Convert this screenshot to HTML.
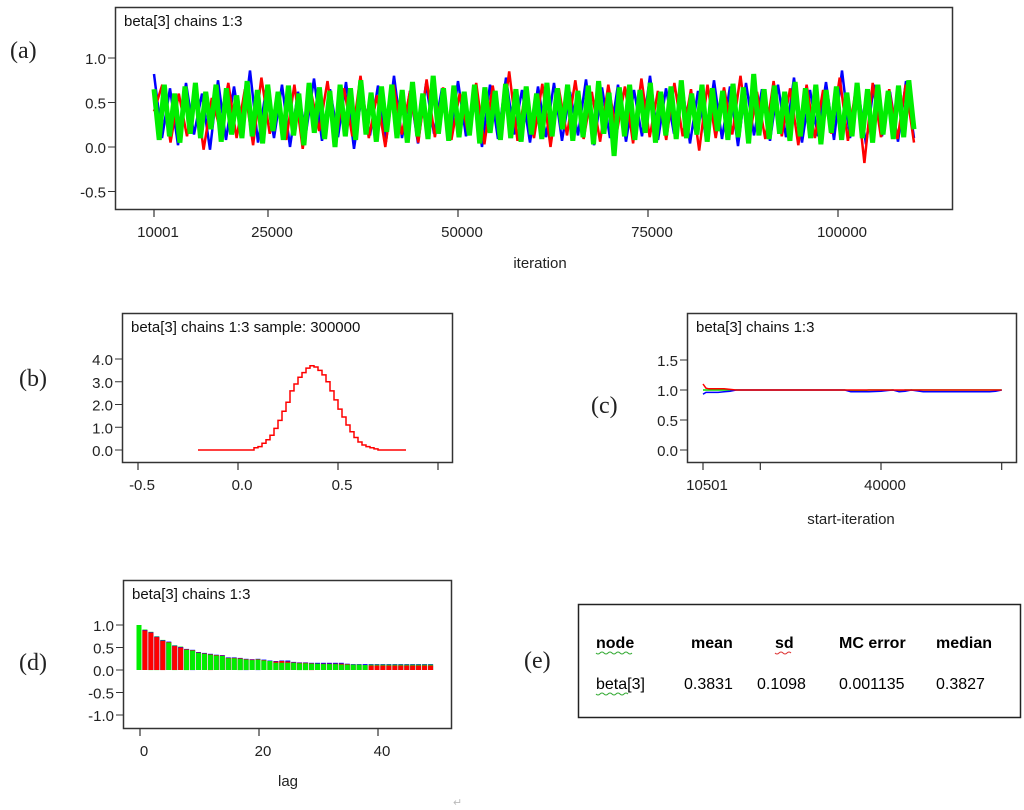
<!DOCTYPE html>
<html><head><meta charset="utf-8"><style>
body{margin:0;background:#fff;}
svg{display:block;font-family:"Liberation Sans",sans-serif;}
.t{font-size:15px;fill:#111;}
.tk{font-size:15px;fill:#222;}
.lab{font-family:"Liberation Serif",serif;font-size:24px;fill:#222;}
.ret{font-size:11px;fill:#bbb;}
</style></head><body>
<svg id="s" width="1024" height="810" viewBox="0 0 1024 810">
<g id="pa"></g>
<g id="pb"></g>
<g id="pc"></g>
<g id="pd"></g>
<g id="pe">
<rect x="578.5" y="604.5" width="442" height="113" fill="none" stroke="#222" stroke-width="1.5"/>
<text x="596" y="648" font-weight="bold" font-size="16">node</text>
<text x="691" y="648" font-weight="bold" font-size="16">mean</text>
<text x="775" y="648" font-weight="bold" font-size="16">sd</text>
<text x="839" y="648" font-weight="bold" font-size="16">MC error</text>
<text x="936" y="648" font-weight="bold" font-size="16">median</text>
<text x="596" y="689" font-size="16">beta[3]</text>
<text x="684" y="689" font-size="16">0.3831</text>
<text x="757" y="689" font-size="16">0.1098</text>
<text x="839" y="689" font-size="16">0.001135</text>
<text x="936" y="689" font-size="16">0.3827</text>
<path d="M596 653 q2 2 4 0 t4 0 t4 0 t4 0 t4 0 t4 0 t4 0 t4 0 t4 0" stroke="#3a3" fill="none" stroke-width="1"/>
<path d="M775 653 q2 2 4 0 t4 0 t4 0 t4 0" stroke="#d33" fill="none" stroke-width="1"/>
<path d="M596 694 q2 2 4 0 t4 0 t4 0 t4 0 t4 0 t4 0 t4 0 t4 0" stroke="#3a3" fill="none" stroke-width="1"/>
</g>
<text class="lab" x="10" y="58">(a)</text>
<text class="lab" x="19" y="386">(b)</text>
<text class="lab" x="591" y="413">(c)</text>
<text class="lab" x="19" y="670">(d)</text>
<text class="lab" x="524" y="668">(e)</text>
<text class="ret" x="453" y="806">↵</text>
</svg>
<script>
// ---- data ----
const traceGreen=[0.65,0.08,0.7,0.12,0.6,0.05,0.68,0.15,0.72,0.1,0.62,0.2,0.7,0.06,0.66,0.14,0.58,0.1,0.74,0.12,0.64,0.04,0.7,0.18,0.62,0.08,0.69,0.13,0.6,0.02,0.72,0.16,0.67,0.09,0.63,0.0,0.7,0.12,0.66,0.08,0.75,0.14,0.61,0.06,0.68,0.17,0.7,0.1,0.64,0.05,0.73,0.12,0.6,0.09,0.8,0.15,0.66,0.07,0.69,0.11,0.62,0.13,0.7,0.04,0.67,0.16,0.63,0.08,0.71,0.1,0.65,0.06,0.68,0.14,0.6,0.09,0.72,0.12,0.66,0.2,0.7,0.07,0.63,0.11,0.69,0.03,0.74,0.15,0.61,-0.1,0.67,0.12,0.7,0.08,0.64,0.16,0.72,0.05,0.62,0.13,0.68,0.09,0.75,0.1,0.6,0.14,0.7,0.06,0.66,0.18,0.63,0.08,0.71,0.11,0.67,0.04,0.82,0.13,0.65,0.09,0.69,0.15,0.62,0.07,0.73,0.12,0.66,0.1,0.7,0.03,0.64,0.16,0.68,0.08,0.61,0.12,0.72,0.1,0.65,0.05,0.7,0.14,0.63,0.09,0.69,0.11,0.75,0.2];
const traceRed=[0.4,0.7,0.05,0.6,0.12,0.68,-0.03,0.55,0.2,0.72,0.1,0.65,0.02,0.78,0.15,0.6,0.08,0.7,-0.02,0.62,0.18,0.74,0.06,0.66,0.12,0.8,0.1,0.58,0.0,0.7,0.14,0.63,0.05,0.76,0.11,0.67,0.08,0.6,0.16,0.72,0.03,0.69,0.12,0.85,0.07,0.64,0.1,0.71,0.0,0.66,0.13,0.75,0.09,0.62,0.06,0.7,0.15,0.68,0.04,0.77,0.11,0.63,0.08,0.72,0.12,0.65,-0.04,0.7,0.1,0.67,0.14,0.8,0.06,0.62,0.09,0.74,0.12,0.66,0.02,0.7,0.1,0.64,0.15,0.78,0.07,0.68,-0.18,0.72,0.11,0.65,0.09,0.7,0.05];
const traceBlue=[0.82,0.1,0.66,0.02,0.72,0.14,0.6,-0.03,0.75,0.08,0.68,0.12,0.86,0.05,0.64,0.1,0.7,0.0,0.62,0.16,0.77,0.07,0.65,0.11,0.73,-0.02,0.6,0.13,0.69,0.06,0.8,0.1,0.63,0.04,0.71,0.15,0.66,0.08,0.74,0.12,0.6,0.0,0.7,0.09,0.78,0.14,0.64,0.05,0.68,0.11,0.72,0.07,0.62,0.13,0.76,0.02,0.67,0.1,0.7,0.06,0.64,0.12,0.8,0.08,0.66,0.15,0.71,0.04,0.63,0.1,0.75,0.09,0.68,0.01,0.72,0.13,0.65,0.07,0.7,0.11,0.78,0.05,0.64,0.12,0.73,0.08,0.86,0.1,0.66,0.03,0.7,0.12,0.62,0.06,0.74,0.1];
const traceYTicks=[1.0,0.5,0.0,-0.5];
const traceYTickLabels=["1.0","0.5","0.0","-0.5"];
const traceXTicks=[10001,25000,50000,75000,100000];
const traceXTickLabels=["10001","25000","50000","75000","100000"];

const densX=[-0.20,-0.18,-0.16,-0.14,-0.12,-0.10,-0.08,-0.06,-0.04,-0.02,0.00,0.02,0.04,0.06,0.08,0.10,0.12,0.14,0.16,0.18,0.20,0.22,0.24,0.26,0.28,0.30,0.32,0.34,0.36,0.38,0.40,0.42,0.44,0.46,0.48,0.50,0.52,0.54,0.56,0.58,0.60,0.62,0.64,0.66,0.68,0.70,0.72,0.74,0.76,0.78,0.80,0.82,0.84];
const densY=[0,0,0,0,0,0,0,0,0,0,0,0,0,0,0.1,0.15,0.3,0.45,0.65,0.95,1.3,1.7,2.1,2.6,2.9,3.2,3.4,3.6,3.7,3.65,3.5,3.3,3.0,2.6,2.2,1.8,1.45,1.1,0.8,0.55,0.35,0.22,0.15,0.1,0.05,0,0,0,0,0,0,0,0];
const densYTicks=[4,3,2,1,0];
const densYTickLabels=["4.0","3.0","2.0","1.0","0.0"];
const densXTicks=[-0.5,0,0.5,1.0];
const densXTickLabels=["-0.5","0.0","0.5",""];

const bgrStart=[10501,11000,11500,12000,13000,14000,15000,16000,17000,18000,20000,25000,30000,34000,35000,36000,37000,38000,40000,42000,43000,44000,45000,47000,50000,53000,56000,58000,59000,60000];
const bgrRed=[1.1,1.03,1.02,1.02,1.02,1.02,1.01,1.0,1.0,1.0,1.0,1.0,1.0,1.0,1.0,1.0,1.0,1.0,1.0,1.0,1.0,1.0,1.0,1.0,1.0,1.0,1.0,1.0,1.0,1.0];
const bgrBlue=[0.93,0.96,0.96,0.96,0.96,0.97,0.98,1.0,1.0,1.0,1.0,1.0,1.0,1.0,0.97,0.97,0.97,0.97,0.98,1.0,0.97,0.98,1.0,0.97,0.97,0.97,0.97,0.97,0.98,1.0];
const bgrGreen=[1.0,1.0,1.0,1.0,1.0,1.0,1.0,1.0,1.0,1.0,1.0,1.0,1.0,1.0,0.99,0.98,0.99,1.0,1.0,1.0,0.98,1.0,1.0,1.0,1.0,1.0,1.0,1.0,1.0,1.0];
const bgrYTicks=[1.5,1.0,0.5,0.0];
const bgrYTickLabels=["1.5","1.0","0.5","0.0"];
const bgrXTicks=[10501,20000,40000,60000];
const bgrXTickLabels=["10501","","40000",""];

const acfRed=[1.0,0.88,0.83,0.73,0.65,0.62,0.53,0.5,0.46,0.44,0.39,0.37,0.35,0.33,0.32,0.27,0.27,0.26,0.24,0.23,0.24,0.22,0.2,0.19,0.2,0.19,0.17,0.16,0.16,0.15,0.14,0.14,0.14,0.14,0.14,0.13,0.12,0.12,0.11,0.1,0.1,0.1,0.1,0.1,0.1,0.1,0.1,0.1,0.1,0.1];
const acfBlue=[1.0,0.89,0.84,0.74,0.66,0.63,0.54,0.51,0.47,0.45,0.4,0.38,0.36,0.34,0.33,0.28,0.28,0.27,0.25,0.24,0.25,0.23,0.21,0.2,0.21,0.21,0.18,0.17,0.17,0.16,0.16,0.16,0.16,0.16,0.16,0.14,0.13,0.13,0.13,0.13,0.13,0.13,0.13,0.13,0.13,0.13,0.13,0.13,0.13,0.13];
const acfGreen=[1.0,0.9,0.85,0.75,0.67,0.61,0.55,0.52,0.45,0.43,0.38,0.36,0.34,0.32,0.31,0.26,0.26,0.25,0.23,0.22,0.23,0.21,0.2,0.16,0.16,0.16,0.16,0.15,0.15,0.14,0.14,0.13,0.13,0.13,0.12,0.12,0.12,0.12,0.11,0.12,0.12,0.12,0.12,0.12,0.12,0.12,0.12,0.12,0.12,0.12];
const acfYTicks=[1.0,0.5,0.0,-0.5,-1.0];
const acfYTickLabels=["1.0","0.5","0.0","-0.5","-1.0"];
const acfXTicks=[0,20,40];
const acfXTickLabels=["0","20","40"];

// ---- helpers ----
const NS="http://www.w3.org/2000/svg";
function mk(parent,tag,attrs){const e=document.createElementNS(NS,tag);for(const k in attrs)e.setAttribute(k,attrs[k]);parent.appendChild(e);return e;}
function lin(d0,d1,r0,r1){return v=>r0+(v-d0)*(r1-r0)/(d1-d0);}
function frame(g,x0,y0,x1,y1,title){
  const r=mk(g,'rect',{x:x0+0.5,y:y0+0.5,width:x1-x0,height:y1-y0,fill:'none',stroke:'#333','stroke-width':1.5});
  
  
  const t=mk(g,'text',{x:x0+9,y:y0+19,class:'t'});t.textContent=title;
  
  
}
function yAxis(g,x0,ticks,labels,sy){
  ticks.forEach((v,i)=>{
    const y=sy(v);
    const l=mk(g,'line',{x1:x0-7,x2:x0,y1:y,y2:y,stroke:'#333','stroke-width':1});
    
    
    const t=mk(g,'text',{x:x0-9,y:y+6,class:'tk','text-anchor':'end'});t.textContent=labels[i];
    
    
  });
}
function xAxis(g,y1,ticks,labels,sx){
  ticks.forEach((v,i)=>{
    const x=sx(v);
    const l=mk(g,'line',{x1:x,x2:x,y1:y1,y2:y1+8,stroke:'#333','stroke-width':1.2});
    
    
    const t=mk(g,'text',{x:x+4,y:y1+28,class:'tk','text-anchor':'middle'});t.textContent=labels[i];
    
    
  });
}
function xTitle(g,x,y,s){const t=mk(g,'text',{x:x,y:y,class:'tk','text-anchor':'middle'});t.textContent=s;
  
  }

// ---- (a) trace ----
(function(){
  const g=document.getElementById('pa');
  frame(g,115,7,952,209,'beta[3] chains 1:3');
  const sy=lin(0,1,147,58), sx=lin(10001,100000,154,838);
  yAxis(g,115,traceYTicks,traceYTickLabels,sy);
  xAxis(g,209,traceXTicks,traceXTickLabels,sx);
  xTitle(g,540,268,'iteration');
  const end=110000;
  function trace(arr,color,w,name){
    let d='';
    arr.forEach((v,i)=>{
      const x=sx(10001+(end-10001)*i/(arr.length-1));
      d+=(i===0?'M':'L')+x.toFixed(1)+' '+sy(v).toFixed(1)+' ';
    });
    const p=mk(g,'path',{d:d,fill:'none',stroke:color,'stroke-width':w,'stroke-linejoin':'bevel'});
    
    
  }
  trace(traceBlue,'#0000ff',2.5,'chain-blue-trace');
  trace(traceRed,'#ff0000',2.5,'chain-red-trace');
  trace(traceGreen,'#00ee00',5,'chain-green-trace');
})();

// ---- (b) density ----
(function(){
  const g=document.getElementById('pb');
  frame(g,122,313,452,462,'beta[3] chains 1:3 sample: 300000');
  const sy=lin(0,4,450,359), sx=lin(0,0.5,238,338);
  yAxis(g,122,densYTicks,densYTickLabels,sy);
  xAxis(g,462,densXTicks,densXTickLabels,sx);
  let d='';
  densX.forEach((x,i)=>{
    const px=sx(x), py=sy(densY[i]);
    d+=(i===0?'M':'L')+px.toFixed(1)+' '+py.toFixed(1)+' ';
    if(i<densX.length-1) d+='L'+sx(densX[i+1]).toFixed(1)+' '+py.toFixed(1)+' ';
  });
  const p=mk(g,'path',{d:d,fill:'none',stroke:'#ff0000','stroke-width':1.5});
  
  
})();

// ---- (c) BGR ----
(function(){
  const g=document.getElementById('pc');
  frame(g,687,313,1016,462,'beta[3] chains 1:3');
  const sy=lin(0,1,450,390), sx=lin(10501,40000,703,881);
  yAxis(g,687,bgrYTicks,bgrYTickLabels,sy);
  xAxis(g,462,bgrXTicks,bgrXTickLabels,sx);
  xTitle(g,851,524,'start-iteration');
  function line(arr,color,name){
    let d='';
    arr.forEach((v,i)=>{d+=(i===0?'M':'L')+sx(bgrStart[i]).toFixed(1)+' '+sy(v).toFixed(1)+' ';});
    const p=mk(g,'path',{d:d,fill:'none',stroke:color,'stroke-width':1.5});
    
    
  }
  line(bgrGreen,'#00dd00','bgr-green-line');
  line(bgrBlue,'#0000ff','bgr-blue-line');
  line(bgrRed,'#ff0000','bgr-red-line');
})();

// ---- (d) ACF ----
(function(){
  const g=document.getElementById('pd');
  frame(g,123,580,451,728,'beta[3] chains 1:3');
  const sy=lin(0,1,670,625), sx=lin(0,40,140,378);
  yAxis(g,123,acfYTicks,acfYTickLabels,sy);
  xAxis(g,728,acfXTicks,acfXTickLabels,sx);
  xTitle(g,288,786,'lag');
  const bw=5;
  acfRed.forEach((_,i)=>{
    const bars=[[acfBlue[i],'#0000ff','acf-bar-blue'],[acfRed[i],'#ff0000','acf-bar-red'],[acfGreen[i],'#00ee00','acf-bar-green']];
    bars.sort((a,b)=>b[0]-a[0]);
    bars.forEach(b=>{
      const y=sy(b[0]);
      const r=mk(g,'rect',{x:(sx(i)-bw/2-1).toFixed(1),y:y.toFixed(1),width:bw,height:(sy(0)-y).toFixed(1),fill:b[1]});
      
      
    });
  });
})();
</script>
</body></html>
